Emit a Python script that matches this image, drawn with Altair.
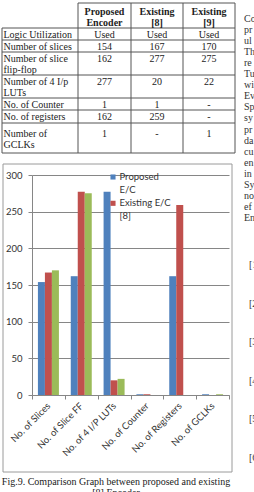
import altair as alt
import pandas as pd

# ---------------- data ----------------
metrics = ["No. of Slices", "No. of Slice FF", "No. of 4 I/P LUTs",
           "No. of Counter", "No. of Registers", "No. of GCLKs"]
series = ["Proposed E/C", "Existing E/C [8]", "Existing E/C [9]"]
proposed = [154, 162, 277, 1, 162, 1]
existing8 = [167, 277, 20, 1, 259, 0]   # 0 = not reported ("-")
existing9 = [170, 275, 22, 0, 0, 1]
colors = ["#4F81BD", "#C0504D", "#9BBB59"]

table_head = ["", "Proposed\nEncoder", "Existing\n[8]", "Existing\n[9]"]
table_labels = ["Logic Utilization", "Number of slices", "Number of slice\nflip-flop",
                "Number of 4 I/p\nLUTs", "No. of Counter", "No. of registers",
                "Number of\nGCLKs"]
table_title = "Encoder"
caption = ["Fig.9. Comparison Graph between proposed and existing", "[8] Encoder"]
side_words = ["Co", "pr", "ul", "Th", "re", "Tu", "wi", "Ev", "Sp", "sy", "pr",
              "da", "cu", "en", "in", "Sy", "no", "ef", "En"]
side_refs = ["[1]", "[2]", "[3]", "[4]", "[5]", "[6]"]

# ---------------- layout (page pixels) ----------------
OX, OY = 32, 175          # plot-area origin
PW, PH = 197, 220         # plot-area size
SERIF = "Liberation Serif"
SANS = "Lato"
INK = "#222222"
AXIS_GREY = "#868686"


def rx(v):
    return v - OX


def ry(v):
    return v - OY


# table geometry
col_edges = [2, 78, 131, 183, 235]
row_edges = [3, 28, 40, 52, 75, 98, 110, 123, 153]
row_pad = [6.5, 6.5, 6.5, 6.5, 6.5, 6.5, 10.5]
LINE = 11

cells = []
for ci, txt in enumerate(table_head):
    if not txt:
        continue
    for k, part in enumerate(txt.split("\n")):
        cells.append({"t": part, "x": rx((col_edges[ci] + col_edges[ci + 1]) / 2),
                      "y": ry(row_edges[0] + 8.5 + k * LINE), "kind": "head"})

value_cols = [proposed, existing8, existing9]
used_row = ["Used", "Used", "Used"]
for ri, lab in enumerate(table_labels):
    top = row_edges[ri + 1] + row_pad[ri]
    for k, part in enumerate(lab.split("\n")):
        cells.append({"t": part, "x": rx(col_edges[0] + 1.5), "y": ry(top + k * LINE),
                      "kind": "label"})
    for ci in range(3):
        if ri == 0:
            val = used_row[ci]
        else:
            v = value_cols[ci][ri - 1]
            val = str(v) if v else "-"
        cells.append({"t": val, "x": rx((col_edges[ci + 1] + col_edges[ci + 2]) / 2),
                      "y": ry(top), "kind": "value"})
cells_df = pd.DataFrame(cells)

segs = []
# horizontal rules (top border skips the empty corner cell)
segs.append({"x": rx(col_edges[1]), "x2": rx(col_edges[-1]), "y": ry(row_edges[0]), "y2": ry(row_edges[0])})
for yv in row_edges[1:]:
    segs.append({"x": rx(col_edges[0]), "x2": rx(col_edges[-1]), "y": ry(yv), "y2": ry(yv)})
# vertical rules
segs.append({"x": rx(col_edges[0]), "x2": rx(col_edges[0]), "y": ry(row_edges[1]), "y2": ry(row_edges[-1])})
for xv in col_edges[1:]:
    segs.append({"x": rx(xv), "x2": rx(xv), "y": ry(row_edges[0]), "y2": ry(row_edges[-1])})
segs_df = pd.DataFrame(segs)

# ---------------- bar chart ----------------
bar_rows = []
for s, vals in zip(series, value_cols):
    for m, v in zip(metrics, vals):
        bar_rows.append({"metric": m, "series": s, "value": v})
bars_df = pd.DataFrame(bar_rows)

bars = alt.Chart(bars_df).mark_bar().encode(
    x=alt.X("metric:N", sort=metrics, title=None,
            scale=alt.Scale(paddingInner=0, paddingOuter=0),
            axis=alt.Axis(labelAngle=-45, labelAlign="right", labelBaseline="middle",
                          labelPadding=5, labelFont=SANS, labelFontSize=9.5,
                          labelColor="#333333", tickBand="extent", tickSize=4,
                          tickColor=AXIS_GREY, domainColor=AXIS_GREY, grid=False,
                          labelLimit=200)),
    xOffset=alt.XOffset("series:N", sort=series,
                        scale=alt.Scale(paddingInner=0, paddingOuter=0.845)),
    y=alt.Y("value:Q", title=None,
            scale=alt.Scale(domain=[0, 300], nice=False),
            axis=alt.Axis(values=[0, 50, 100, 150, 200, 250, 300], grid=True,
                          gridColor=AXIS_GREY, gridWidth=1, tickSize=4,
                          tickColor=AXIS_GREY, domainColor=AXIS_GREY,
                          labelFont=SANS, labelFontSize=9.5, labelColor="#333333",
                          labelPadding=6)),
    color=alt.Color("series:N", sort=series,
                    scale=alt.Scale(domain=series, range=colors), legend=None),
)

# in-plot legend (third entry is cut off by the chart area)
leg_rows, leg_text = [], []
for i, s in enumerate(series[:2]):
    y0 = 177 + i * 26.3
    leg_rows.append({"series": s, "x": rx(113), "y": ry(y0)})
    for k, part in enumerate(s.rsplit(" ", 1)):
        leg_text.append({"t": part, "x": rx(119.5), "y": ry(y0 + k * 12.5)})
leg_sq = alt.Chart(pd.DataFrame(leg_rows)).mark_square(size=26, opacity=1).encode(
    x=alt.X("x:Q", scale=None), y=alt.Y("y:Q", scale=None),
    color=alt.Color("series:N", sort=series,
                    scale=alt.Scale(domain=series, range=colors), legend=None),
)
leg_lab = alt.Chart(pd.DataFrame(leg_text)).mark_text(
    align="left", baseline="middle", font=SANS, fontSize=9.5, color="#333333"
).encode(x=alt.X("x:Q", scale=None), y=alt.Y("y:Q", scale=None), text="t:N")

# chart-area frame (outline only, so the axes underneath stay visible)
frame = alt.Chart(pd.DataFrame({"k": [0]})).mark_rect(
    fill="transparent", stroke="#9a9a9a", strokeWidth=1
).encode(x=alt.value(rx(3)), x2=alt.value(rx(232)),
         y=alt.value(ry(164)), y2=alt.value(ry(472)))

# ---------------- table ----------------
table_lines = alt.Chart(segs_df).mark_rule(color="#555555", strokeWidth=1).encode(
    x=alt.X("x:Q", scale=None), x2="x2:Q", y=alt.Y("y:Q", scale=None), y2="y2:Q")


def cell_layer(kind, align, weight):
    return alt.Chart(cells_df[cells_df["kind"] == kind]).mark_text(
        align=align, baseline="middle", font=SERIF, fontSize=10,
        fontWeight=weight, color=INK
    ).encode(x=alt.X("x:Q", scale=None), y=alt.Y("y:Q", scale=None), text="t:N")


head_txt = cell_layer("head", "center", "bold")
label_txt = cell_layer("label", "left", "normal")
value_txt = cell_layer("value", "center", "normal")

# ---------------- surrounding page text ----------------
page_txt = [{"t": table_title, "x": rx(117), "y": ry(-3), "a": "c"}]
for k, line in enumerate(caption):
    page_txt.append({"t": line, "x": rx(116), "y": ry(482 + k * 11), "a": "c"})
for k, w in enumerate(side_words):
    page_txt.append({"t": w, "x": rx(244), "y": ry(19 + k * 11.05), "a": "l"})
for k, r in enumerate(side_refs):
    page_txt.append({"t": r, "x": rx(249), "y": ry(265 + k * 38.6), "a": "l"})
page_df = pd.DataFrame(page_txt)

caption_txt = alt.Chart(page_df[page_df["a"] == "c"]).mark_text(
    align="center", baseline="middle", font=SERIF, fontSize=10, color=INK
).encode(x=alt.X("x:Q", scale=None), y=alt.Y("y:Q", scale=None), text="t:N")
side_txt = alt.Chart(page_df[page_df["a"] == "l"]).mark_text(
    align="left", baseline="middle", font=SERIF, fontSize=10, color="#333333"
).encode(x=alt.X("x:Q", scale=None), y=alt.Y("y:Q", scale=None), text="t:N")

chart = alt.layer(
    frame, table_lines, head_txt, label_txt, value_txt,
    bars, leg_sq, leg_lab, caption_txt, side_txt
).properties(
    width=PW, height=PH,
    autosize=alt.AutoSizeParams(type="none"),
    padding={"left": OX, "top": OY, "right": 254 - OX - PW, "bottom": 492 - OY - PH},
    background="white",
).configure_view(stroke=None)

chart.save("out.html", embed_options={"renderer": "svg", "actions": False})
